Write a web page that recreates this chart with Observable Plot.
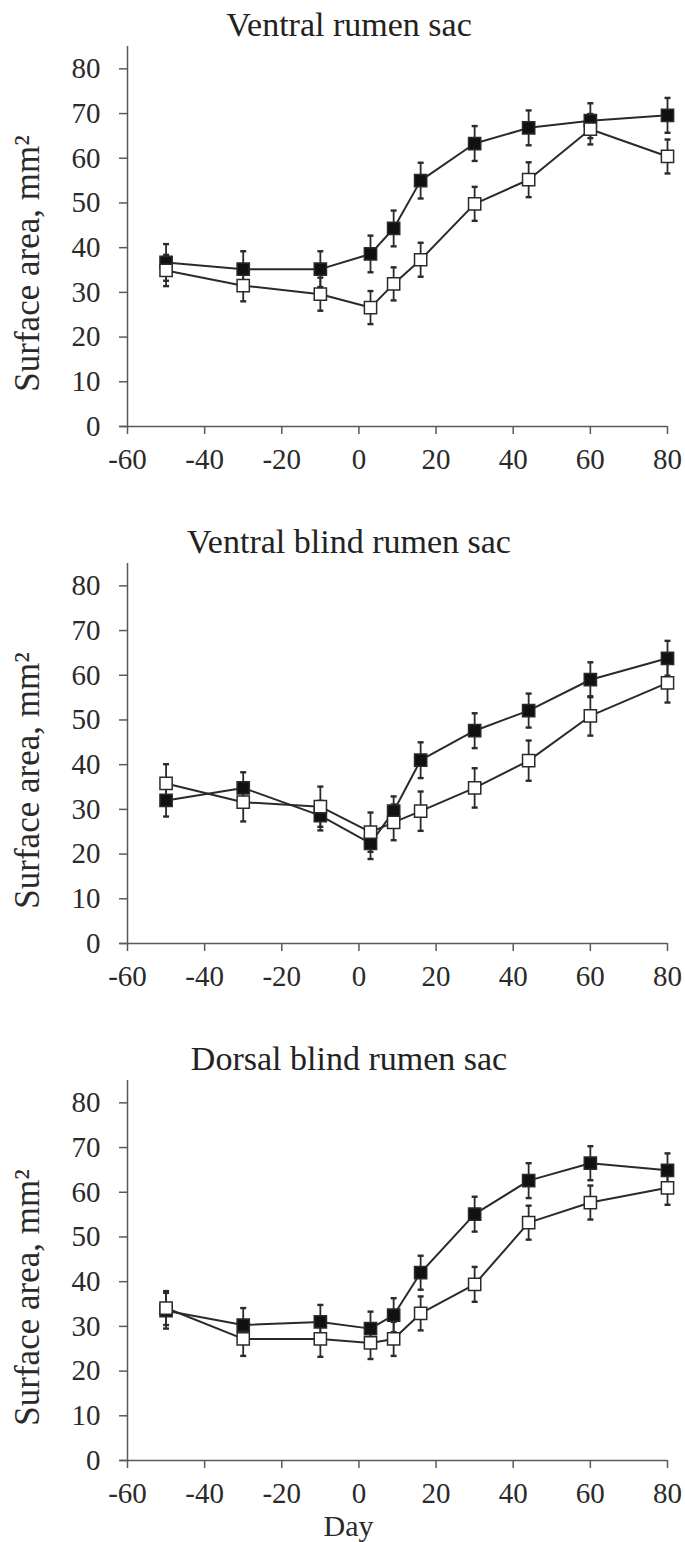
<!DOCTYPE html>
<html>
<head>
<meta charset="utf-8">
<script src="https://cdn.jsdelivr.net/npm/d3@7"></script>
<script src="https://cdn.jsdelivr.net/npm/@observablehq/plot@0.6"></script>
<style>
  html, body { margin: 0; padding: 0; background: #fff; overflow: hidden; }
  body { width: 685px; font-family: "Liberation Serif", "Times New Roman", serif; color: #222; }
  .panel { width: 685px; position: relative; }
  .title { height: 40px; line-height: 50px; text-align: center; font-size: 34px; padding-left: 13px; box-sizing: border-box; white-space: nowrap; }
  svg { display: block; }
</style>
</head>
<body>
<div id="chart"></div>
<script>
// ---- data ----
const days = [-50, -30, -10, 3, 9, 16, 30, 44, 60, 80];
const panelTitles = ["Ventral rumen sac", "Ventral blind rumen sac", "Dorsal blind rumen sac"];
const xTicks = [-60, -40, -20, 0, 20, 40, 60, 80];
const yTicks = [0, 10, 20, 30, 40, 50, 60, 70, 80];
const yLabel = "Surface area, mm²";
const xLabel = "Day";

// Ventral rumen sac
const vrsFilled   = [36.7, 35.2, 35.2, 38.6, 44.3, 55.0, 63.3, 66.8, 68.4, 69.6];
const vrsFilledSE = [4.1, 4.0, 4.0, 4.1, 4.0, 4.0, 3.9, 3.9, 3.9, 3.9];
const vrsOpen     = [34.9, 31.5, 29.6, 26.6, 31.9, 37.3, 49.8, 55.2, 66.5, 60.4];
const vrsOpenSE   = [3.5, 3.5, 3.7, 3.7, 3.7, 3.8, 3.8, 3.9, 3.4, 3.8];

// Ventral blind rumen sac
const vbsFilled   = [32.0, 34.8, 28.6, 22.4, 29.6, 41.0, 47.6, 52.1, 59.0, 63.8];
const vbsFilledSE = [3.6, 3.5, 3.3, 3.5, 3.3, 4.0, 3.9, 3.8, 3.9, 3.9];
const vbsOpen     = [35.8, 31.6, 30.6, 24.9, 27.1, 29.6, 34.8, 40.9, 50.9, 58.3];
const vbsOpenSE   = [4.3, 4.3, 4.5, 4.4, 4.0, 4.4, 4.4, 4.5, 4.4, 4.4];

// Dorsal blind rumen sac
const dbsFilled   = [33.5, 30.3, 31.0, 29.5, 32.5, 42.0, 55.1, 62.6, 66.5, 64.9];
const dbsFilledSE = [4.0, 3.8, 3.8, 3.8, 3.8, 3.8, 3.9, 3.9, 3.8, 3.8];
const dbsOpen     = [34.1, 27.2, 27.2, 26.3, 27.2, 32.9, 39.4, 53.2, 57.7, 61.0];
const dbsOpenSE   = [3.8, 3.8, 4.0, 3.6, 3.8, 3.8, 3.9, 3.8, 3.8, 3.8];

// ---- build ----
const panels = [
  {title: panelTitles[0], filled: vrsFilled, filledSE: vrsFilledSE, open: vrsOpen, openSE: vrsOpenSE},
  {title: panelTitles[1], filled: vbsFilled, filledSE: vbsFilledSE, open: vbsOpen, openSE: vbsOpenSE},
  {title: panelTitles[2], filled: dbsFilled, filledSE: dbsFilledSE, open: dbsOpen, openSE: dbsOpenSE}
];

const capSymbol = {
  draw(context, size) {
    context.rect(-3, -1.2, 6, 2.4);
  }
};

const ink = "#2a2a2a";
const axisInk = "#5a5a5a";
const root = document.getElementById("chart");

panels.forEach((p, k) => {
  const rows = (vals, se, group) => days.map((d, i) => ({day: d, value: vals[i], lo: vals[i] - se[i], hi: vals[i] + se[i], group}));
  const filled = rows(p.filled, p.filledSE, "filled");
  const open = rows(p.open, p.openSE, "open");
  const all = filled.concat(open);
  const last = k === panels.length - 1;

  const div = document.createElement("div");
  div.className = "panel";
  const t = document.createElement("div");
  t.className = "title";
  t.textContent = p.title;
  div.appendChild(t);

  const marks = [
    Plot.ruleX([-60], {stroke: axisInk, strokeWidth: 1.5}),
    Plot.ruleY([0], {x1: -62, x2: 80, stroke: axisInk, strokeWidth: 1.5}),
    Plot.axisX(xTicks, {tickSize: 8, tickPadding: 14, fontSize: 29, stroke: axisInk, strokeWidth: 1.5, fill: ink, tickFormat: d => String(d), label: null}),
    Plot.axisY(yTicks, {tickSize: 8, tickPadding: 19, fontSize: 29, stroke: axisInk, strokeWidth: 1.5, fill: ink, tickFormat: d => String(d), label: null}),
    Plot.text([yLabel], {frameAnchor: "left", rotate: -90, dx: -100, dy: 27, fontSize: 35, textAnchor: "middle", lineAnchor: "middle", fill: ink}),
    // error bars
    Plot.ruleX(all, {x: "day", y1: "lo", y2: "hi", stroke: ink, strokeWidth: 1.8}),
    Plot.dot(all, {x: "day", y: "hi", symbol: capSymbol, r: 3, fill: ink, stroke: null}),
    Plot.dot(all, {x: "day", y: "lo", symbol: capSymbol, r: 3, fill: ink, stroke: null}),
    // lines
    Plot.line(filled, {x: "day", y: "value", stroke: ink, strokeWidth: 2}),
    Plot.line(open, {x: "day", y: "value", stroke: ink, strokeWidth: 2}),
    // markers
    Plot.dot(filled, {x: "day", y: "value", symbol: "square", r: 6.9, fill: "#111", stroke: ink, strokeWidth: 1.5}),
    Plot.dot(open, {x: "day", y: "value", symbol: "square", r: 6.9, fill: "#fff", stroke: ink, strokeWidth: 1.5})
  ];
  if (last) {
    marks.push(Plot.text([xLabel], {frameAnchor: "bottom", dx: -49, dy: 66, fontSize: 30, textAnchor: "middle", lineAnchor: "middle", fill: ink}));
  }

  const svg = Plot.plot({
    width: 685,
    height: last ? 468 : 477,
    marginLeft: 127,
    marginRight: 18,
    marginTop: 6,
    marginBottom: last ? 82 : 91,
    style: {fontFamily: "'Liberation Serif', 'Times New Roman', serif", background: "#fff", overflow: "visible"},
    x: {domain: [-60, 80]},
    y: {domain: [0, 85]},
    marks
  });
  div.appendChild(svg);
  root.appendChild(div);
});
</script>
</body>
</html>
